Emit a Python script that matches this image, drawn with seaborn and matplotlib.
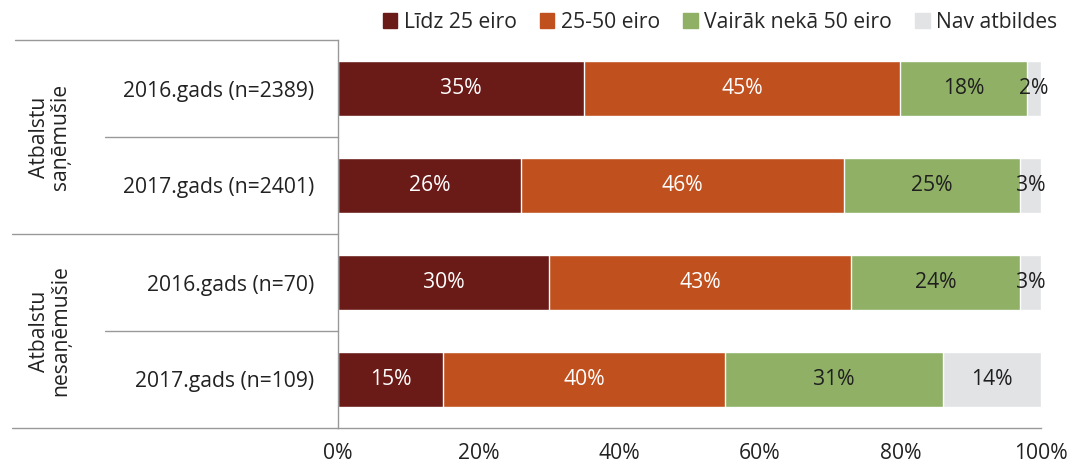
import numpy as np
import pandas as pd
import matplotlib
matplotlib.use("Agg")
import matplotlib.pyplot as plt
import seaborn as sns

# data
categories = ["2016.gads (n=2389)", "2017.gads (n=2401)", "2016.gads (n=70)", "2017.gads (n=109)"]
series_names = ["Līdz 25 eiro", "25-50 eiro", "Vairāk nekā 50 eiro", "Nav atbildes"]
lidz25 = [35, 26, 30, 15]
no25_50 = [45, 46, 43, 40]
virs50 = [18, 25, 24, 31]
nav_atb = [2, 3, 3, 14]
groups = ["Atbalstu\nsaņēmušie", "Atbalstu\nnesaņēmušie"]

colors = ["#6B1B17", "#C0511F", "#8FB065", "#E2E3E4"]
text_colors = ["white", "white", "#1f1f1f", "#1f1f1f"]

sns.set_style("white")
plt.rcParams["font.family"] = ["Open Sans", "DejaVu Sans"]
FS = 15.2

df = pd.DataFrame({"cat": categories, series_names[0]: lidz25, series_names[1]: no25_50,
                   series_names[2]: virs50, series_names[3]: nav_atb})
cum = df[series_names].cumsum(axis=1)

fig = plt.figure(figsize=(10.75, 4.72), dpi=100)
ax = fig.add_axes([338 / 1075, 1 - 428 / 472, 703 / 1075, 388 / 472])

# stacked bars: draw cumulative totals from the back
for i in reversed(range(len(series_names))):
    sns.barplot(x=cum[series_names[i]], y=df["cat"], color=colors[i], width=0.57,
                orient="h", ax=ax, saturation=1)
if ax.get_legend() is not None:
    ax.get_legend().remove()

# segment labels
for i, name in enumerate(series_names):
    left = cum[name] - df[name]
    for j in range(len(categories)):
        v = df[name][j]
        ax.text(left[j] + v / 2, j, f"{v}%", ha="center", va="center",
                color=text_colors[i], fontsize=FS)

ax.set_xlim(0, 100)
ax.set_ylim(3.5, -0.5)
ax.set_xticks(np.arange(0, 101, 20))
ax.set_xticklabels([f"{t}%" for t in range(0, 101, 20)], fontsize=FS, color="#222222")
ax.tick_params(axis="x", direction="out", length=8, width=1, color="#999999", pad=3)
ax.set_yticks(range(len(categories)))
ax.set_yticklabels(categories, fontsize=FS, color="#222222")
ax.tick_params(axis="y", length=0, pad=17)
ax.set_xlabel("")
ax.set_ylabel("")

for s in ["top", "right"]:
    ax.spines[s].set_visible(False)
for s in ["left", "bottom"]:
    ax.spines[s].set_color("#999999")
    ax.spines[s].set_linewidth(1)

# left table lines
tr = ax.get_yaxis_transform()
line_starts = [(-0.5, 15), (0.5, 105), (1.5, 12), (2.5, 105), (3.5, 12)]
for yv, px in line_starts:
    ax.plot([(px - 338) / 703, 0], [yv, yv], color="#999999", lw=1,
            transform=tr, clip_on=False)

# group labels
for k, g in enumerate(groups):
    ax.text((50 - 338) / 703, 0.5 + 2 * k, g, rotation=90, ha="center", va="center",
            fontsize=FS, color="#222222", transform=tr, linespacing=1.0)

# legend
handles = [plt.Rectangle((0, 0), 1, 1, color=c) for c in colors]
fig.legend(handles, series_names, loc="center", bbox_to_anchor=(720 / 1075, 1 - 22 / 472),
           ncol=4, frameon=False, fontsize=FS, handlelength=0.7, handleheight=0.7,
           handletextpad=0.3, columnspacing=1.1, borderaxespad=0)

fig.savefig("out.png", dpi=100)
